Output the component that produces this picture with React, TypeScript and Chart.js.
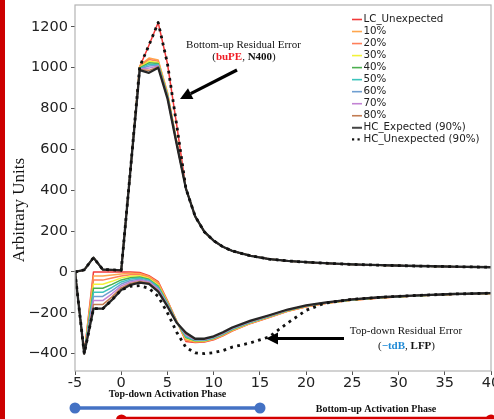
import { useEffect, useRef } from 'react';
import { Chart, registerables } from 'chart.js';
Chart.register(...registerables);

// time steps
const X = [-5, -4, -3, -2, -1, 0, 1, 2, 3, 4, 5, 6, 7, 8, 9, 10, 11, 12, 14, 16, 18, 20, 22, 25, 28, 32, 36, 40];
const X_TICKS = [-5, 0, 5, 10, 15, 20, 25, 30, 35, 40];
const Y_TICKS = [-400, -200, 0, 200, 400, 600, 800, 1000, 1200];

const NAMES = ['LC_Unexpected', '10%', '20%', '30%', '40%', '50%', '60%', '70%', '80%', 'HC_Expected (90%)', 'HC_Unexpected (90%)'];
const COLORS = ['#f23a3a', '#ffa64d', '#ff7f5a', '#f2f23a', '#4caf50', '#3cc4bc', '#6f9fd2', '#c383d4', '#c27c52', '#262626', '#111111'];

// bottom-up residual error (upper curves): shared head x=-5..1 and tail x=8..40
const UP_HEAD = [0, 10, 70, 12, 10, 8, 500];
const UP_TAIL = [272, 196, 153, 123, 103, 79, 63, 54, 48, 43, 37, 33, 29, 26, 23];
// x = 2..7 for each series
const UP_LC = [1005, 1110, 1221, 1020, 720, 408];
const UP_10 = [1010, 1047, 1038, 880, 640, 410];
const UP_20 = [1006, 1040, 1032, 875, 637, 409];
const UP_30 = [1002, 1032, 1026, 870, 635, 409];
const UP_40 = [999, 1024, 1021, 866, 633, 408];
const UP_50 = [996, 1016, 1016, 862, 631, 408];
const UP_60 = [994, 1008, 1012, 859, 629, 408];
const UP_70 = [992, 998, 1008, 856, 628, 408];
const UP_80 = [990, 987, 1004, 853, 626, 408];
const UP_HCE = [988, 975, 1000, 850, 625, 408];
const UP_HCU = [1005, 1110, 1221, 1020, 720, 408];

// top-down residual error (lower curves)
const LO_LC = [0, -400, 0, 0, 0, 0, 0, -3, -18, -47, -140, -240, -340, -345, -343, -332, -313, -289, -252, -223, -193, -171, -155, -138, -127, -117, -109, -105];
const LO_10 = [0, -400, -20, -20, -15, -10, -7, -8, -22, -52, -143, -241, -335, -343, -341, -330, -311, -288, -251, -222, -192, -170, -154, -138, -127, -117, -109, -105];
const LO_20 = [0, -400, -40, -40, -30, -20, -14, -14, -27, -58, -146, -242, -331, -341, -339, -328, -309, -286, -250, -221, -191, -169, -154, -137, -126, -116, -109, -105];
const LO_30 = [0, -400, -60, -60, -46, -29, -21, -19, -31, -63, -150, -243, -326, -339, -338, -326, -307, -284, -249, -220, -190, -168, -153, -137, -126, -116, -109, -105];
const LO_40 = [0, -400, -80, -80, -61, -39, -28, -25, -36, -69, -153, -244, -321, -337, -336, -325, -305, -282, -247, -218, -189, -167, -153, -136, -125, -116, -108, -104];
const LO_50 = [0, -400, -100, -100, -76, -49, -35, -30, -40, -74, -156, -245, -317, -335, -334, -323, -304, -280, -246, -217, -188, -167, -152, -136, -125, -116, -108, -104];
const LO_60 = [0, -400, -120, -120, -91, -59, -42, -36, -45, -80, -159, -246, -312, -333, -332, -321, -302, -278, -244, -216, -187, -166, -152, -135, -125, -115, -108, -104];
const LO_70 = [0, -400, -140, -140, -107, -68, -49, -41, -49, -85, -163, -247, -307, -331, -331, -319, -300, -276, -243, -215, -186, -165, -151, -135, -124, -115, -108, -104];
const LO_80 = [0, -400, -160, -160, -122, -78, -56, -47, -54, -91, -166, -248, -303, -329, -329, -317, -298, -274, -241, -213, -185, -165, -151, -134, -124, -115, -108, -104];
const LO_HCE = [0, -400, -180, -180, -137, -88, -63, -52, -58, -96, -169, -249, -298, -327, -327, -315, -295, -272, -238, -212, -184, -164, -150, -134, -124, -115, -108, -104];
const LO_HCU = [0, -400, -180, -180, -137, -88, -70, -67, -80, -120, -200, -295, -370, -396, -400, -395, -385, -368, -347, -318, -250, -188, -153, -134, -124, -115, -108, -104];

const UPPER = [UP_LC, UP_10, UP_20, UP_30, UP_40, UP_50, UP_60, UP_70, UP_80, UP_HCE, UP_HCU].map((m) => [...UP_HEAD, ...m, ...UP_TAIL]);
const LOWER = [LO_LC, LO_10, LO_20, LO_30, LO_40, LO_50, LO_60, LO_70, LO_80, LO_HCE, LO_HCU];

const SERIF = '"Liberation Serif", "DejaVu Serif", serif';
const SANS = '"DejaVu Sans", sans-serif';

function arrow(ctx: CanvasRenderingContext2D, x1: number, y1: number, x2: number, y2: number) {
  const ang = Math.atan2(y2 - y1, x2 - x1);
  const hl = 12, hw = 6;
  const bx = x2 - Math.cos(ang) * hl, by = y2 - Math.sin(ang) * hl;
  ctx.strokeStyle = '#000';
  ctx.fillStyle = '#000';
  ctx.lineWidth = 3.2;
  ctx.lineCap = 'butt';
  ctx.beginPath();
  ctx.moveTo(x1, y1);
  ctx.lineTo(bx, by);
  ctx.stroke();
  ctx.beginPath();
  ctx.moveTo(x2, y2);
  ctx.lineTo(bx + Math.sin(ang) * hw, by - Math.cos(ang) * hw);
  ctx.lineTo(bx - Math.sin(ang) * hw, by + Math.cos(ang) * hw);
  ctx.closePath();
  ctx.fill();
}

function mixedLine(ctx: CanvasRenderingContext2D, cx: number, y: number, parts: [string, string, boolean][], size: number) {
  const fonts = parts.map((p) => `${p[2] ? 'bold ' : ''}${size}px ${SERIF}`);
  let total = 0;
  const widths = parts.map((p, i) => { ctx.font = fonts[i]; const w = ctx.measureText(p[0]).width; total += w; return w; });
  let x = cx - total / 2;
  ctx.textAlign = 'left';
  ctx.textBaseline = 'middle';
  parts.forEach((p, i) => { ctx.font = fonts[i]; ctx.fillStyle = p[1]; ctx.fillText(p[0], x, y); x += widths[i]; });
}

const overlay = {
  id: 'overlay',
  afterDraw(chart: any) {
    const ctx: CanvasRenderingContext2D = chart.ctx;
    const { left, top, right, bottom } = chart.chartArea;
    ctx.save();
    // frame
    ctx.strokeStyle = '#b4b4b4';
    ctx.lineWidth = 1.2;
    ctx.strokeRect(left, top, right - left, bottom - top);

    // y title
    ctx.save();
    ctx.translate(20, 210);
    ctx.rotate(-Math.PI / 2);
    ctx.font = `17px ${SERIF}`;
    ctx.fillStyle = '#111';
    ctx.textAlign = 'center';
    ctx.textBaseline = 'middle';
    ctx.fillText('Arbitrary Units', 0, 0);
    ctx.restore();

    // annotations
    ctx.fillStyle = '#111';
    ctx.font = `11px ${SERIF}`;
    ctx.textAlign = 'center';
    ctx.textBaseline = 'middle';
    ctx.fillText('Bottom-up Residual Error', 243.5, 45);
    mixedLine(ctx, 244, 57.5, [['(', '#111', false], ['buPE', '#f01c24', true], [', ', '#111', false], ['N400', '#111', true], [')', '#111', false]], 11);
    ctx.fillStyle = '#111';
    ctx.font = `11px ${SERIF}`;
    ctx.textAlign = 'center';
    ctx.fillText('Top-down Residual Error', 406, 331.5);
    mixedLine(ctx, 406.5, 346.5, [['(', '#111', false], ['\u2212tdB', '#1f8ad6', true], [', ', '#111', false], ['LFP', '#111', true], [')', '#111', false]], 11);
    arrow(ctx, 237, 70, 180, 99);
    arrow(ctx, 344, 338.5, 266, 338.5);

    // legend
    const lx1 = 352, lx2 = 362, tx = 363.5;
    for (let i = 0; i < NAMES.length; i++) {
      const y = 19 + 12.03 * i;
      if (i === 10) {
        ctx.fillStyle = '#111';
        ctx.fillRect(352, y - 1, 2.2, 2.2);
        ctx.fillRect(357.5, y - 1, 2.2, 2.2);
      } else {
        ctx.strokeStyle = i === 9 ? '#444' : COLORS[i];
        ctx.lineWidth = i === 9 ? 2 : 1.6;
        ctx.beginPath();
        ctx.moveTo(lx1, y + 0.5);
        ctx.lineTo(lx2, y + 0.5);
        ctx.stroke();
      }
      ctx.fillStyle = '#222';
      ctx.font = `10.3px ${SANS}`;
      ctx.textAlign = 'left';
      ctx.textBaseline = 'middle';
      ctx.fillText(NAMES[i], tx, y);
    }

    // phase bars
    ctx.fillStyle = '#111';
    ctx.font = `bold 10px ${SERIF}`;
    ctx.textAlign = 'center';
    ctx.textBaseline = 'middle';
    ctx.fillText('Top-down Activation Phase', 167.5, 394);
    ctx.fillText('Bottom-up Activation Phase', 376, 409);
    ctx.strokeStyle = '#4472c4';
    ctx.fillStyle = '#4472c4';
    ctx.lineWidth = 3.5;
    ctx.beginPath();
    ctx.moveTo(75, 408);
    ctx.lineTo(260, 408);
    ctx.stroke();
    [75, 260].forEach((cx) => { ctx.beginPath(); ctx.arc(cx, 408, 5.5, 0, Math.PI * 2); ctx.fill(); });
    ctx.strokeStyle = '#d40000';
    ctx.fillStyle = '#d40000';
    ctx.lineWidth = 2.5;
    ctx.beginPath();
    ctx.moveTo(121, 418);
    ctx.lineTo(494, 418);
    ctx.stroke();
    [121.5, 491].forEach((cx) => { ctx.beginPath(); ctx.arc(cx, 420, 5.5, 0, Math.PI * 2); ctx.fill(); });
    // left red bar
    ctx.fillStyle = '#cc0000';
    ctx.fillRect(0, 0, 5, 419);
    ctx.restore();
  },
};

export default function App() {
  const ref = useRef<HTMLCanvasElement>(null);
  useEffect(() => {
    document.body.style.margin = '0';
    const datasets: any[] = [];
    for (let i = 0; i < NAMES.length; i++) {
      const dotted = i === 10;
      const base = {
        label: NAMES[i],
        borderColor: COLORS[i],
        backgroundColor: COLORS[i],
        borderWidth: dotted ? 2.8 : i === 9 ? 2.3 : 1.5,
        borderDash: dotted ? [2.8, 4.4] : [],
        borderCapStyle: 'butt',
        borderJoinStyle: 'round',
        pointRadius: 0,
        tension: 0,
        fill: false,
        order: 10 - i,
      };
      datasets.push({ ...base, data: X.map((x, k) => ({ x, y: UPPER[i][k] })) });
      datasets.push({ ...base, label: NAMES[i] + ' (td)', data: X.map((x, k) => ({ x, y: LOWER[i][k] })) });
    }
    const chart = new Chart(ref.current!, {
      type: 'line',
      data: { datasets },
      options: {
        responsive: false,
        animation: false,
        devicePixelRatio: 1,
        layout: { padding: { left: 0, right: 3, top: 5, bottom: 0 } },
        plugins: { legend: { display: false }, tooltip: { enabled: false } },
        scales: {
          x: {
            type: 'linear',
            min: -5,
            max: 40,
            afterBuildTicks: (s: any) => { s.ticks = X_TICKS.map((v) => ({ value: v })); },
            afterFit: (s: any) => { s.height = 48; s.paddingLeft = 0; s.paddingRight = 0; },
            ticks: {
              font: { family: 'DejaVu Sans', size: 14.5 },
              color: '#222',
              padding: 0,
              maxRotation: 0,
              autoSkip: false,
              callback: (v: any) => String(v),
            },
            grid: { display: true, drawOnChartArea: false, drawTicks: true, tickLength: 4, color: '#555' },
            border: { display: false },
          },
          y: {
            type: 'linear',
            min: -485,
            max: 1307,
            afterBuildTicks: (s: any) => { s.ticks = Y_TICKS.map((v) => ({ value: v })); },
            afterFit: (s: any) => { s.width = 75; s.paddingTop = 0; s.paddingBottom = 0; },
            ticks: {
              font: { family: 'DejaVu Sans', size: 14.5 },
              color: '#222',
              padding: 3,
              autoSkip: false,
              callback: (v: any) => (v < 0 ? '\u2212' + Math.abs(v) : String(v)),
            },
            grid: { display: true, drawOnChartArea: false, drawTicks: true, tickLength: 4, color: '#555' },
            border: { display: false },
          },
        },
      },
      plugins: [overlay],
    } as any);
    return () => chart.destroy();
  }, []);
  return (
    <div style={{ width: 494, height: 419 }}>
      <canvas ref={ref} width={494} height={419} style={{ display: 'block' }} />
    </div>
  );
}
